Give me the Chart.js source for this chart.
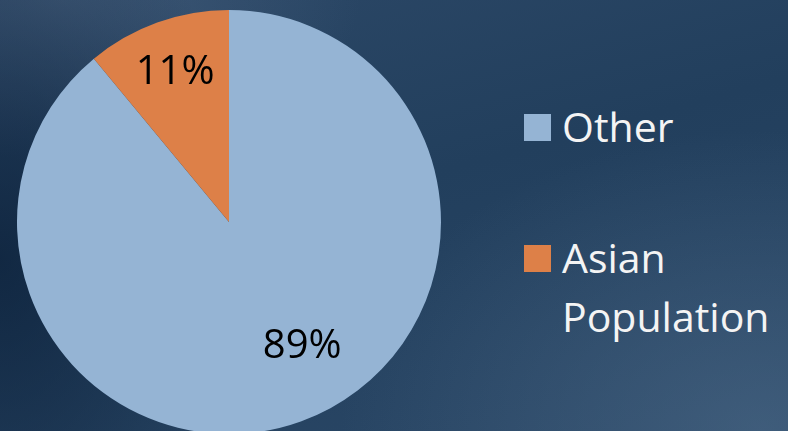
<!DOCTYPE html>
<html>
<head>
<meta charset="utf-8">
<script src="https://cdn.jsdelivr.net/npm/chart.js@4.4.1/dist/chart.umd.min.js"></script>
<style>
  html, body {
    margin: 0;
    width: 788px;
    height: 431px;
    overflow: hidden;
  }
  body {
    position: relative;
    background:
      radial-gradient(ellipse 420px 300px at 760px 430px, rgba(80,110,140,0.55), rgba(80,110,140,0) 100%),
      radial-gradient(ellipse 260px 380px at 0px 260px, rgba(10,30,55,0.7), rgba(10,30,55,0) 100%),
      radial-gradient(ellipse 300px 160px at 60px 0px, rgba(75,100,130,0.6), rgba(75,100,130,0) 100%),
      linear-gradient(165deg, #2c4867 0%, #223f5d 45%, #2a4766 100%);
    font-family: "Open Sans", sans-serif;
  }
  #pieWrap {
    position: absolute;
    left: 17px;
    top: 10px;
    width: 424px;
    height: 424px;
  }
  #legend {
    position: absolute;
    left: 524px;
    top: 97px;
    color: #f4f4f4;
    font-size: 41px;
    line-height: 59px;
  }
  .item {
    position: absolute;
    left: 0;
    white-space: nowrap;
  }
  .swatch {
    position: absolute;
    left: 0;
    top: 17px;
    width: 27px;
    height: 27px;
  }
  .text {
    position: absolute;
    left: 38px;
    top: 0;
  }
</style>
</head>
<body>
<div id="pieWrap"><canvas id="pie" width="424" height="424"></canvas></div>
<div id="legend"></div>

<script>
// chart values
const labels = ['Other', 'Asian Population'];
const shares = [89, 11];
const legendLines = [['Other'], ['Asian', 'Population']];

const COLORS = ['#95b4d4', '#dd8048'];

// label placement inside each slice (fraction of radius, angle nudge in rad)
const LABEL_R = [0.68, 0.75];
const LABEL_SHIFT = [-0.187, 0];
const LEGEND_TOPS = [0, 131];

const pctLabels = {
  id: 'pctLabels',
  afterDatasetsDraw(chart) {
    const ctx = chart.ctx;
    const meta = chart.getDatasetMeta(0);
    ctx.save();
    ctx.font = '40px "Open Sans", sans-serif';
    ctx.fillStyle = '#000';
    ctx.textAlign = 'center';
    ctx.textBaseline = 'middle';
    meta.data.forEach((arc, i) => {
      const p = arc.getProps(['x', 'y', 'startAngle', 'endAngle', 'outerRadius']);
      const a = (p.startAngle + p.endAngle) / 2 + LABEL_SHIFT[i];
      const r = p.outerRadius * LABEL_R[i];
      ctx.fillText(shares[i] + '%', p.x + Math.cos(a) * r, p.y + Math.sin(a) * r);
    });
    ctx.restore();
  }
};

new Chart(document.getElementById('pie').getContext('2d'), {
  type: 'pie',
  data: {
    labels,
    datasets: [{
      data: shares,
      backgroundColor: COLORS,
      borderWidth: 0
    }]
  },
  options: {
    responsive: false,
    animation: false,
    layout: { padding: 0 },
    plugins: {
      legend: { display: false },
      tooltip: { enabled: false }
    }
  },
  plugins: [pctLabels]
});

// legend on the right, wrapped the way the original is
const legend = document.getElementById('legend');
legend.innerHTML = labels.map((l, i) =>
  `<div class="item" style="top:${LEGEND_TOPS[i]}px">
     <div class="swatch" style="background:${COLORS[i]}"></div>
     <div class="text">${legendLines[i].join('<br>')}</div>
   </div>`
).join('');
</script>
</body>
</html>
